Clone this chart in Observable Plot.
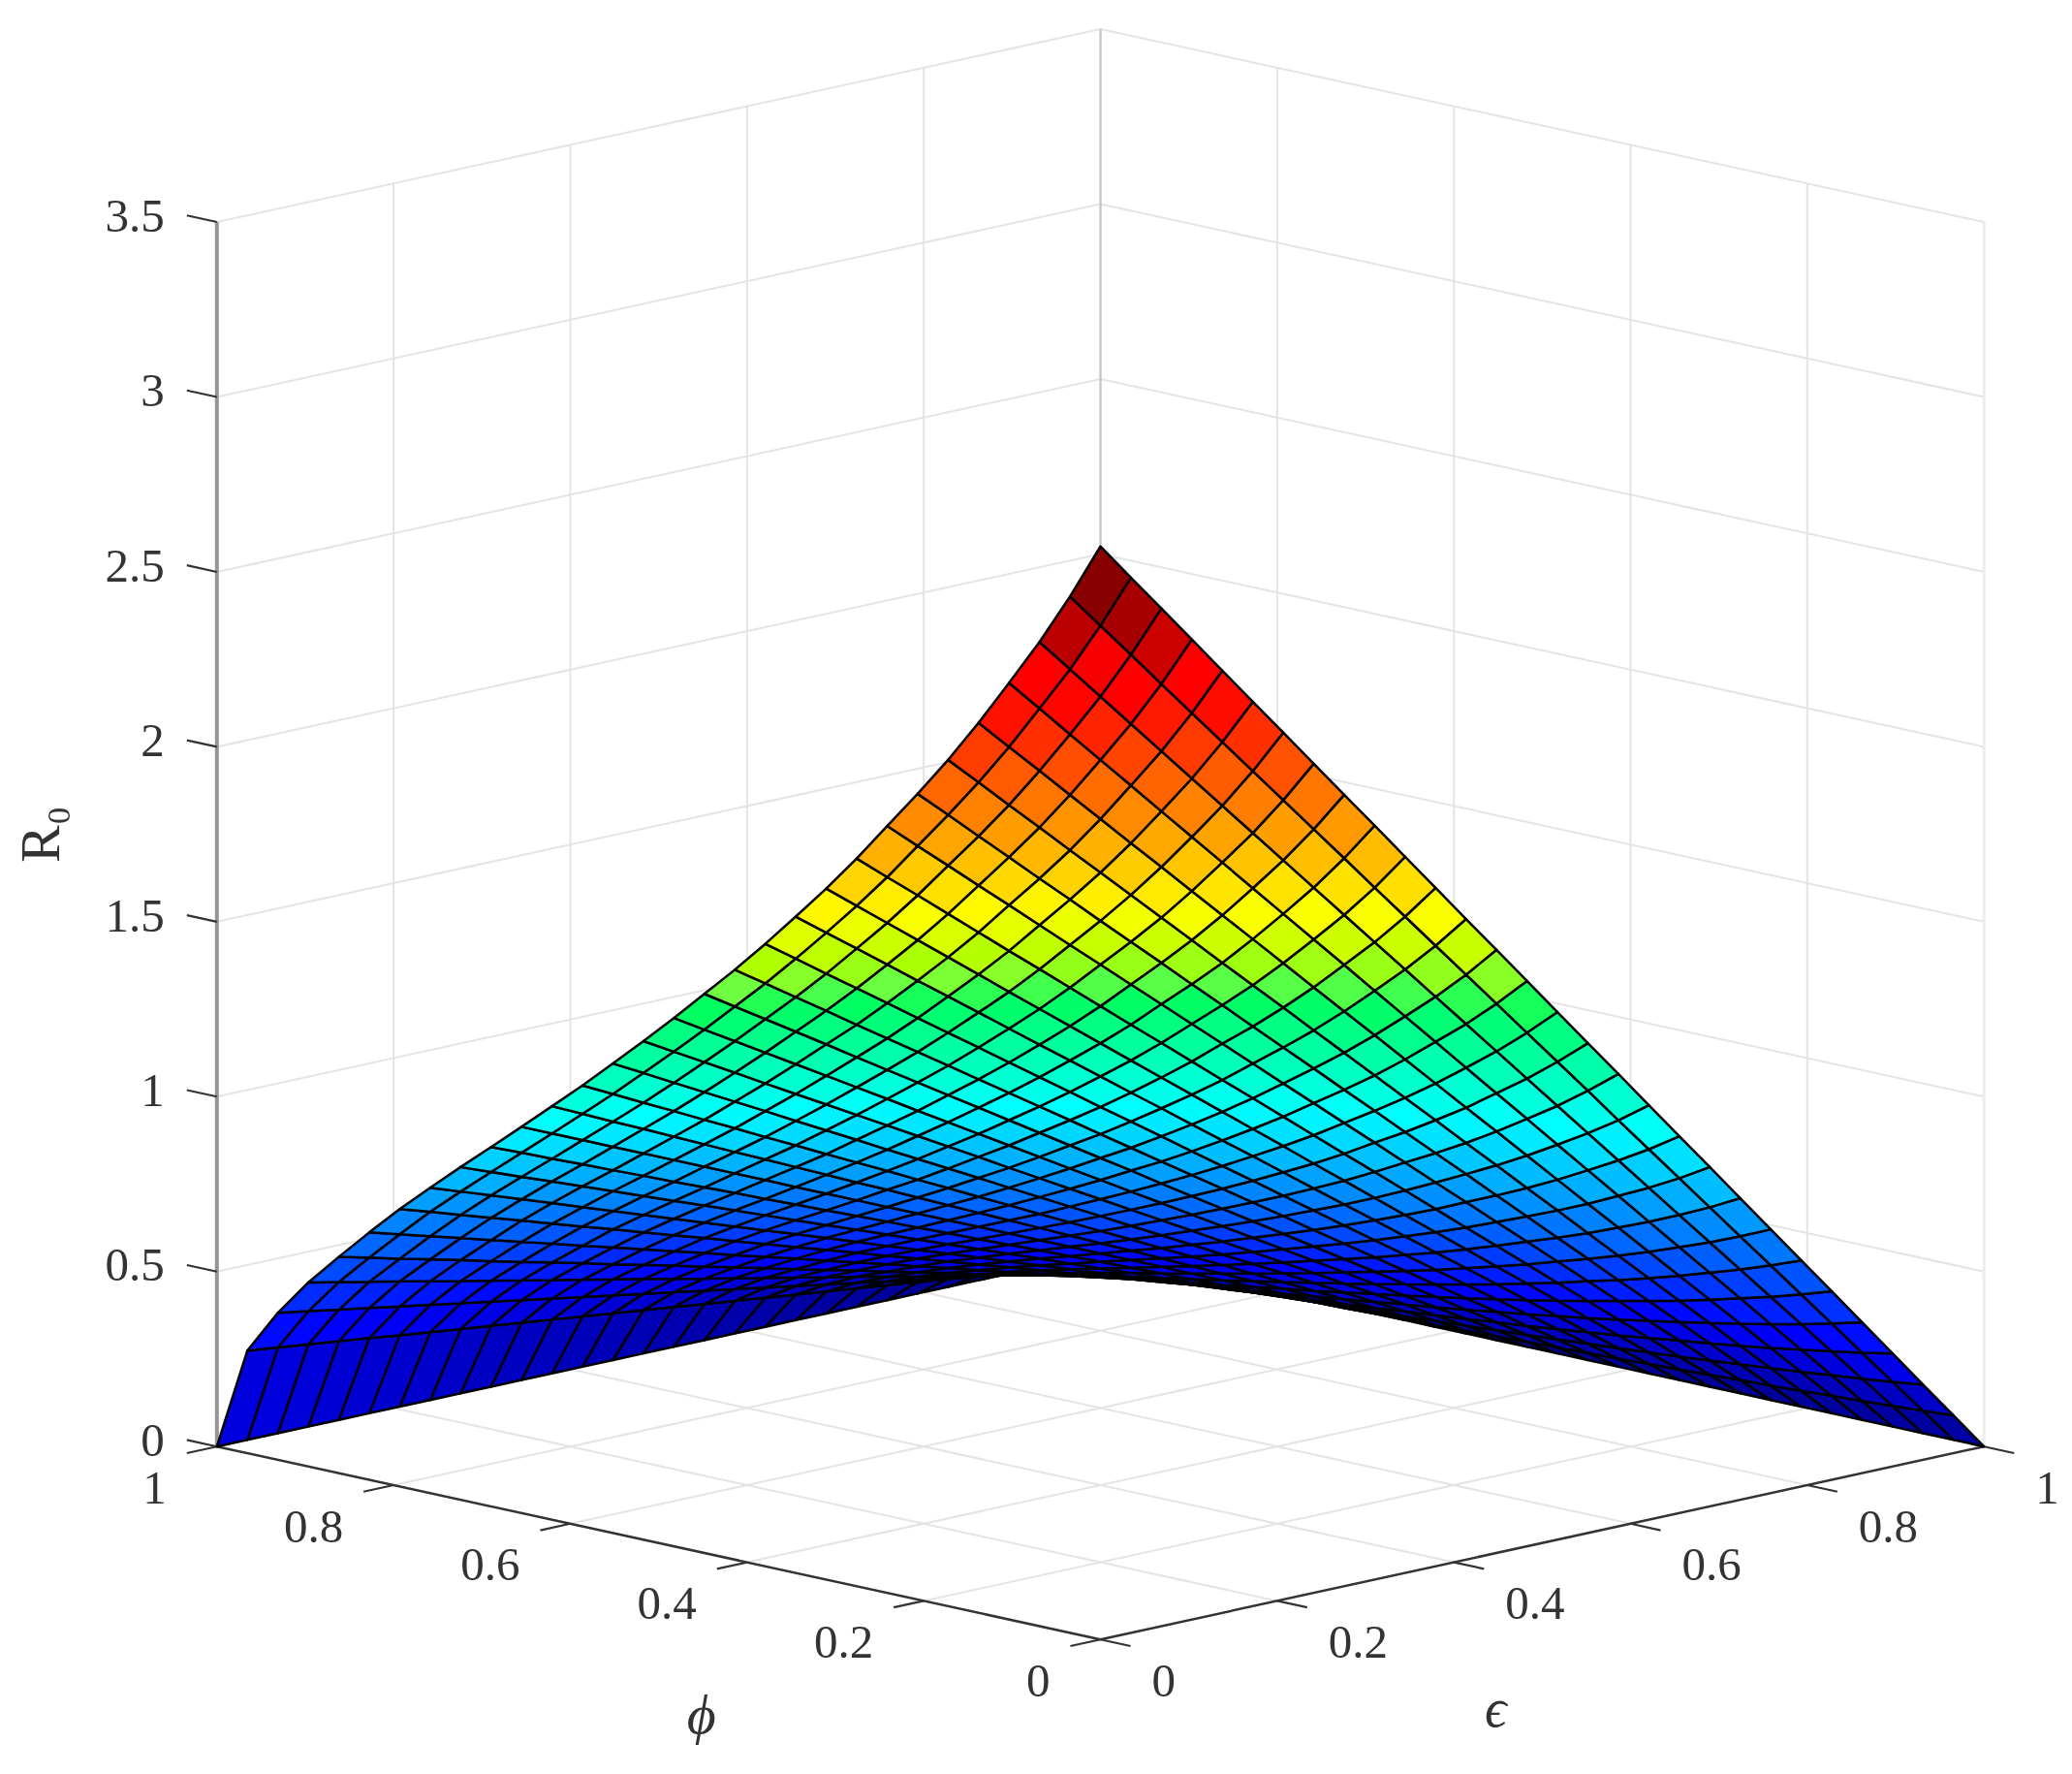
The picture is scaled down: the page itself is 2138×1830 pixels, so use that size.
<!DOCTYPE html>
<html>
<head>
<meta charset="utf-8">
<style>html,body{margin:0;padding:0;background:#fff}svg{display:block}</style>
<script src="https://cdn.jsdelivr.net/npm/d3@7"></script>
<script src="https://cdn.jsdelivr.net/npm/@observablehq/plot@0.6"></script>
</head>
<body>
<div id="chart"></div>
<script>
// ---- data ----
const epsilonTicks = [0, 0.2, 0.4, 0.6, 0.8, 1];
const epsilonTickLabels = ["0", "0.2", "0.4", "0.6", "0.8", "1"];
const phiTicks = [0, 0.2, 0.4, 0.6, 0.8, 1];
const phiTickLabels = ["0", "0.2", "0.4", "0.6", "0.8", "1"];
const r0Ticks = [0, 0.5, 1, 1.5, 2, 2.5, 3, 3.5];
const r0TickLabels = ["0", "0.5", "1", "1.5", "2", "2.5", "3", "3.5"];
const meshSteps = 29; // cells per side of the surface

// one row per phi step (0 → 1), one value per epsilon step (0 → 1)
const r0Rows = [
[3.124,3.016,2.909,2.801,2.693,2.585,2.478,2.370,2.262,2.155,2.047,1.939,1.831,1.724,1.616,1.508,1.400,1.293,1.185,1.077,.970,.862,.754,.646,.539,.431,.323,.215,.108,0],
[2.962,2.860,2.758,2.655,2.553,2.451,2.349,2.247,2.145,2.043,1.940,1.838,1.736,1.634,1.532,1.430,1.328,1.226,1.123,1.021,.919,.817,.715,.613,.511,.409,.306,.204,.102,0],
[2.813,2.716,2.619,2.522,2.425,2.328,2.231,2.134,2.037,1.940,1.843,1.746,1.649,1.552,1.455,1.358,1.261,1.164,1.067,.970,.873,.776,.679,.582,.485,.388,.291,.194,.097,0],
[2.677,2.585,2.492,2.400,2.308,2.215,2.123,2.031,1.938,1.846,1.754,1.662,1.569,1.477,1.385,1.292,1.200,1.108,1.015,.923,.831,.738,.646,.554,.462,.369,.277,.185,.092,0],
[2.544,2.456,2.369,2.281,2.193,2.105,2.018,1.930,1.842,1.755,1.667,1.579,1.491,1.404,1.316,1.228,1.140,1.053,.965,.877,.789,.702,.614,.526,.439,.351,.263,.175,.088,0],
[2.419,2.336,2.252,2.169,2.085,2.002,1.919,1.835,1.752,1.668,1.585,1.502,1.418,1.335,1.251,1.168,1.085,1.001,.918,.834,.751,.667,.584,.500,.417,.334,.250,.167,.083,0],
[2.303,2.224,2.144,2.065,1.985,1.906,1.826,1.747,1.668,1.588,1.509,1.429,1.350,1.271,1.191,1.112,1.032,.953,.874,.794,.715,.635,.556,.476,.397,.318,.238,.159,.079,0],
[2.192,2.116,2.041,1.965,1.890,1.814,1.738,1.663,1.587,1.512,1.436,1.361,1.285,1.209,1.134,1.058,.983,.907,.831,.756,.680,.605,.529,.454,.378,.302,.227,.151,.076,0],
[2.080,2.008,1.937,1.865,1.793,1.721,1.650,1.578,1.506,1.434,1.363,1.291,1.219,1.148,1.076,1.004,.932,.861,.789,.717,.645,.574,.502,.430,.359,.287,.215,.143,.072,0],
[1.975,1.907,1.839,1.771,1.703,1.635,1.566,1.498,1.430,1.362,1.294,1.226,1.158,1.090,1.022,.954,.885,.817,.749,.681,.613,.545,.477,.409,.341,.272,.204,.136,.068,0],
[1.876,1.811,1.747,1.682,1.617,1.553,1.488,1.423,1.358,1.294,1.229,1.164,1.100,1.035,.970,.906,.841,.776,.711,.647,.582,.517,.453,.388,.323,.259,.194,.129,.065,0],
[1.779,1.718,1.656,1.595,1.534,1.472,1.411,1.350,1.288,1.227,1.166,1.104,1.043,.982,.920,.859,.798,.736,.675,.613,.552,.491,.429,.368,.307,.245,.184,.123,.061,0],
[1.686,1.628,1.570,1.512,1.453,1.395,1.337,1.279,1.221,1.163,1.105,1.047,.988,.930,.872,.814,.756,.698,.640,.581,.523,.465,.407,.349,.291,.233,.174,.116,.058,0],
[1.598,1.543,1.488,1.433,1.378,1.322,1.267,1.212,1.157,1.102,1.047,.992,.937,.882,.827,.771,.716,.661,.606,.551,.496,.441,.386,.331,.276,.220,.165,.110,.055,0],
[1.510,1.458,1.406,1.354,1.302,1.250,1.198,1.146,1.093,1.041,.989,.937,.885,.833,.781,.729,.677,.625,.573,.521,.469,.417,.365,.312,.260,.208,.156,.104,.052,0],
[1.425,1.376,1.327,1.278,1.228,1.179,1.130,1.081,1.032,.983,.934,.885,.835,.786,.737,.688,.639,.590,.541,.491,.442,.393,.344,.295,.246,.197,.147,.098,.049,0],
[1.342,1.296,1.249,1.203,1.157,1.111,1.064,1.018,.972,.925,.879,.833,.787,.740,.694,.648,.602,.555,.509,.463,.416,.370,.324,.278,.231,.185,.139,.093,.046,0],
[1.260,1.217,1.173,1.130,1.086,1.043,.999,.956,.912,.869,.826,.782,.739,.695,.652,.608,.565,.521,.478,.434,.391,.348,.304,.261,.217,.174,.130,.087,.043,0],
[1.182,1.141,1.100,1.060,1.019,.978,.937,.897,.856,.815,.774,.734,.693,.652,.611,.571,.530,.489,.448,.408,.367,.326,.285,.245,.204,.163,.122,.082,.041,0],
[1.104,1.066,1.028,.990,.952,.914,.876,.838,.800,.761,.723,.685,.647,.609,.571,.533,.495,.457,.419,.381,.343,.305,.266,.228,.190,.152,.114,.076,.038,0],
[1.027,.992,.956,.921,.885,.850,.814,.779,.744,.708,.673,.637,.602,.567,.531,.496,.460,.425,.390,.354,.319,.283,.248,.212,.177,.142,.106,.071,.035,0],
[.951,.918,.885,.853,.820,.787,.754,.721,.689,.656,.623,.590,.557,.525,.492,.459,.426,.393,.361,.328,.295,.262,.230,.197,.164,.131,.098,.066,.033,0],
[.873,.843,.813,.783,.753,.722,.692,.662,.632,.602,.572,.542,.512,.482,.452,.421,.391,.361,.331,.301,.271,.241,.211,.181,.151,.120,.090,.060,.030,0],
[.793,.766,.738,.711,.684,.656,.629,.602,.574,.547,.520,.492,.465,.437,.410,.383,.355,.328,.301,.273,.246,.219,.191,.164,.137,.109,.082,.055,.027,0],
[.707,.683,.658,.634,.609,.585,.561,.536,.512,.488,.463,.439,.414,.390,.366,.341,.317,.293,.268,.244,.219,.195,.171,.146,.122,.098,.073,.049,.024,0],
[.618,.597,.575,.554,.533,.511,.490,.469,.448,.426,.405,.384,.362,.341,.320,.298,.277,.256,.234,.213,.192,.170,.149,.128,.107,.085,.064,.043,.021,0],
[.526,.508,.490,.472,.453,.435,.417,.399,.381,.363,.345,.327,.308,.290,.272,.254,.236,.218,.200,.181,.163,.145,.127,.109,.091,.073,.054,.036,.018,0],
[.420,.406,.391,.377,.362,.348,.333,.319,.304,.290,.275,.261,.246,.232,.217,.203,.188,.174,.159,.145,.130,.116,.101,.087,.072,.058,.043,.029,.014,0],
[.293,.283,.273,.263,.253,.242,.232,.222,.212,.202,.192,.182,.172,.162,.152,.141,.131,.121,.111,.101,.091,.081,.071,.061,.051,.040,.030,.020,.010,0],
[0,0,0,0,0,0,0,0,0,0,0,0,0,0,0,0,0,0,0,0,0,0,0,0,0,0,0,0,0,0]
];

// colormap as read from the cells: R0 value and the colour of cells at that value
const colorValues = [0, 0.39, 1.17, 1.60, 1.686, 1.78, 1.95, 2.73, 2.85, 2.91, 3.016, 3.124];
const colorStops = ["#000080", "#0000ff", "#00ffff", "#00ff60", "#70ff40", "#b0ff00", "#ffff00", "#ff0000", "#ff0000", "#cc0000", "#a80000", "#880000"];

// ---- axonometric view of the 3-D box: the x and y scales work on these two view coordinates ----
const depthShare = 199 / 360.9;           // floor depth per unit of epsilon+phi, in R0 units
const across = (e, p) => e - p;
const up = (e, p, r) => r + depthShare * (e + p);
const nearness = (e, p, r) => -889.6 * (e + p) + 80.6 * r;   // far cells are painted first

const seg = (e1, p1, r1, e2, p2, r2) => ({
  x1: across(e1, p1), y1: up(e1, p1, r1), x2: across(e2, p2), y2: up(e2, p2, r2)
});

const grid = [];
for (const r of r0Ticks) {
  grid.push(seg(0, 1, r, 1, 1, r));            // left back wall, level lines
  grid.push(seg(1, 0, r, 1, 1, r));            // right back wall, level lines
}
const rTop = r0Ticks[r0Ticks.length - 1];
for (const e of epsilonTicks) {
  if (e > 0 && e < 1) grid.push(seg(e, 1, 0, e, 1, rTop));
  if (e > 0) grid.push(seg(e, 0, 0, e, 1, 0));
}
for (const p of phiTicks) {
  if (p > 0 && p < 1) grid.push(seg(1, p, 0, 1, p, rTop));
  if (p > 0) grid.push(seg(0, p, 0, 1, p, 0));
}
const rightEdge = [seg(1, 0, 0, 1, 0, rTop)];
const backEdge = [seg(1, 1, 0, 1, 1, rTop)];
const rAxis = [seg(0, 1, 0, 0, 1, rTop)];
const floorAxes = [seg(0, 0, 0, 0, 1, 0), seg(0, 0, 0, 1, 0, 0)];

const tickLen = 0.034;
const ticks = [
  ...phiTicks.map(p => seg(0, p, 0, -tickLen, p, 0)),
  ...epsilonTicks.map(e => seg(e, 0, 0, e, -tickLen, 0)),
  ...r0Ticks.map(r => seg(0, 1, r, 0, 1 + tickLen, r))
];

const vertices = [];
const cells = [];
for (let j = 0; j < meshSteps; ++j) {
  for (let i = 0; i < meshSteps; ++i) {
    const c = [[i, j], [i + 1, j], [i + 1, j + 1], [i, j + 1]];
    const near = d3.mean(c, ([a, b]) => nearness(a / meshSteps, b / meshSteps, r0Rows[b][a]));
    cells.push({id: j * meshSteps + i, c, value: r0Rows[j][i], near});
  }
}
cells.sort((a, b) => d3.ascending(a.near, b.near));
for (const cell of cells) {
  for (const [a, b] of [...cell.c, cell.c[0]]) {
    const e = a / meshSteps, p = b / meshSteps, r = r0Rows[b][a];
    vertices.push({x: across(e, p), y: up(e, p, r), id: cell.id, value: cell.value});
  }
}

const labelColor = "#333333";
const linkOpts = {x1: "x1", y1: "y1", x2: "x2", y2: "y2"};

const chart = Plot.plot({
  width: 2138,
  height: 1830,
  margin: 0,
  style: {fontFamily: "'Liberation Serif', serif", background: "#fff"},
  x: {type: "linear", domain: [-1, 1], range: [223.3, 2046.7], axis: null},
  y: {type: "linear", domain: [(1690.7 - 1830) / 360.9, 1690.7 / 360.9], range: [1830, 0], axis: null},
  color: {type: "linear", domain: colorValues, range: colorStops, interpolate: "rgb", clamp: true},
  marks: [
    Plot.link(grid, {...linkOpts, stroke: "#e4e4e4", strokeWidth: 2}),
    Plot.link(rightEdge, {...linkOpts, stroke: "#ececec", strokeWidth: 3}),
    Plot.link(backEdge, {...linkOpts, stroke: "#c8c8c8", strokeWidth: 2.5}),
    Plot.link(rAxis, {...linkOpts, stroke: "#959595", strokeWidth: 4}),
    Plot.link(floorAxes, {...linkOpts, stroke: "#333", strokeWidth: 2.5}),
    Plot.link(ticks, {...linkOpts, stroke: "#333", strokeWidth: 2.2}),
    Plot.line(vertices, {x: "x", y: "y", z: "id", fill: "value", stroke: "#000", strokeWidth: 2.5, curve: "linear"}),
    Plot.text(r0Ticks, {
      x: () => across(0, 1), y: r => up(0, 1, r), text: (r, i) => r0TickLabels[i],
      textAnchor: "end", lineAnchor: "middle", dx: -54, dy: -6, fontSize: 49, fill: labelColor
    }),
    Plot.text(phiTicks, {
      x: p => across(0, p), y: p => up(0, p, 0), text: (p, i) => phiTickLabels[i],
      textAnchor: "end", lineAnchor: "middle", dx: -52, dy: 43, fontSize: 49, fill: labelColor
    }),
    Plot.text(epsilonTicks, {
      x: e => across(e, 0), y: e => up(e, 0, 0), text: (e, i) => epsilonTickLabels[i],
      textAnchor: "start", lineAnchor: "middle", dx: 53, dy: 43, fontSize: 49, fill: labelColor
    }),
    Plot.text(["R₀"], {
      x: () => across(0, 1), y: () => up(0, 1, 1.75), text: d => d, rotate: -90,
      textAnchor: "middle", lineAnchor: "middle", dx: -181, dy: 0, fontSize: 58, fill: labelColor
    }),
    Plot.text(["ϕ"], {
      x: () => across(0, 0.5), y: () => up(0, 0.5, 0), text: d => d, fontStyle: "italic",
      textAnchor: "middle", lineAnchor: "middle", dx: 44, dy: 178, fontSize: 58, fill: labelColor
    }),
    Plot.text(["ϵ"], {
      x: () => across(0.5, 0), y: () => up(0.5, 0, 0), text: d => d, fontStyle: "italic",
      textAnchor: "middle", lineAnchor: "middle", dx: -48, dy: 171, fontSize: 56, fill: labelColor
    })
  ]
});
document.getElementById("chart").appendChild(chart);
</script>
</body>
</html>
